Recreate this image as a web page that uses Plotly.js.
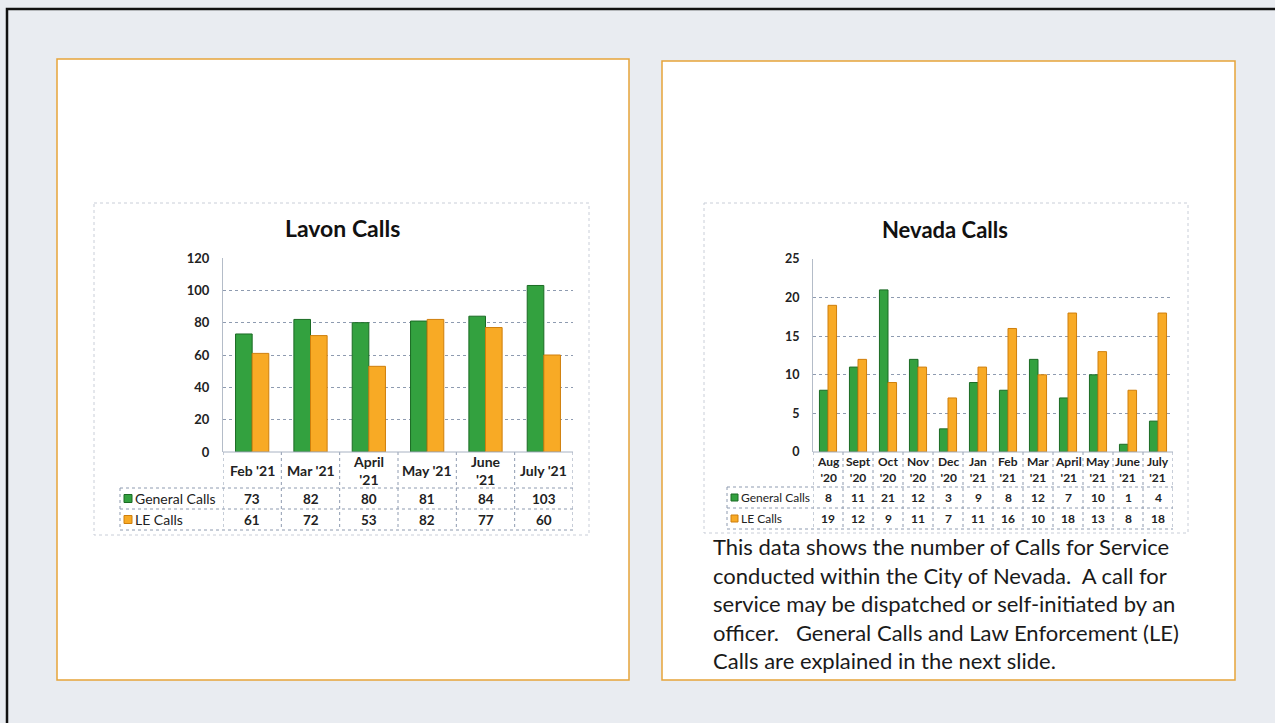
<!DOCTYPE html>
<html>
<head>
<meta charset="utf-8">
<script src="https://cdn.plot.ly/plotly-3.0.1.min.js"></script>
<style>
html,body{margin:0;padding:0;background:#e9ecf1;}
#chart{width:1275px;height:723px;}
</style>
</head>
<body>
<div id="chart"></div>
<script>
// ---- DATA ----
const seriesNames = ["General Calls", "LE Calls"];
const lavonMonths = ["Feb '21", "Mar '21", "April<br>'21", "May '21", "June<br>'21", "July '21"];
const lavonGeneral = [73, 82, 80, 81, 84, 103];
const lavonLE = [61, 72, 53, 82, 77, 60];
const nevadaMonths = ["Aug<br>'20", "Sept<br>'20", "Oct<br>'20", "Nov<br>'20", "Dec<br>'20", "Jan<br>'21",
                      "Feb<br>'21", "Mar<br>'21", "April<br>'21", "May<br>'21", "June<br>'21", "July<br>'21"];
const nevadaGeneral = [8, 11, 21, 12, 3, 9, 8, 12, 7, 10, 1, 4];
const nevadaLE = [19, 12, 9, 11, 7, 11, 16, 10, 18, 13, 8, 18];
const lavonTicks = [0, 20, 40, 60, 80, 100, 120];
const nevadaTicks = [0, 5, 10, 15, 20, 25];
const noteLines = [
  "This data shows the number of Calls for Service",
  "conducted within the City of Nevada.&nbsp; A call for",
  "service may be dispatched or self-initiated by an",
  "officer.&nbsp;&nbsp; General Calls and Law Enforcement (LE)",
  "Calls are explained in the next slide."
];

// ---- LAYOUT HELPERS ----
const W = 1275, H = 723;
const px = x => x / W;
const py = y => 1 - y / H;
const FONT = "Lato, 'Open Sans', sans-serif";
const GREEN = '#33a13f', GREEN_LINE = '#1b6b24';
const ORANGE = '#f8aa25', ORANGE_LINE = '#cf7f0c';
const GRID = '#8e9bb0';

const traces = [
  {type:'bar', x: lavonMonths, y: lavonGeneral, name: seriesNames[0], xaxis:'x', yaxis:'y',
   marker:{color:GREEN, line:{color:GREEN_LINE, width:1}}, hoverinfo:'y'},
  {type:'bar', x: lavonMonths, y: lavonLE, name: seriesNames[1], xaxis:'x', yaxis:'y',
   marker:{color:ORANGE, line:{color:ORANGE_LINE, width:1}}, hoverinfo:'y'},
  {type:'bar', x: nevadaMonths, y: nevadaGeneral, name: seriesNames[0], xaxis:'x2', yaxis:'y2',
   marker:{color:GREEN, line:{color:GREEN_LINE, width:1}}, hoverinfo:'y'},
  {type:'bar', x: nevadaMonths, y: nevadaLE, name: seriesNames[1], xaxis:'x2', yaxis:'y2',
   marker:{color:ORANGE, line:{color:ORANGE_LINE, width:1}}, hoverinfo:'y'}
];

const shapes = [];
const annotations = [];

// page frame
shapes.push({type:'path', xref:'paper', yref:'paper', layer:'below',
  path:`M ${px(7)} ${py(723)} L ${px(7)} ${py(9)} L ${px(1275)} ${py(9)}`,
  line:{color:'#111111', width:2.5}});
// orange panels
shapes.push({type:'rect', xref:'paper', yref:'paper', layer:'below',
  x0:px(57), y0:py(59), x1:px(629), y1:py(680), fillcolor:'#ffffff', line:{color:'#e6a43a', width:1.5}});
shapes.push({type:'rect', xref:'paper', yref:'paper', layer:'below',
  x0:px(662), y0:py(61), x1:px(1235), y1:py(680), fillcolor:'#ffffff', line:{color:'#e6a43a', width:1.5}});
// chart frames
shapes.push({type:'rect', xref:'paper', yref:'paper', layer:'below',
  x0:px(94), y0:py(203), x1:px(589), y1:py(535), fillcolor:'#ffffff', line:{color:'#c9ced8', width:1, dash:'dot'}});
shapes.push({type:'rect', xref:'paper', yref:'paper', layer:'below',
  x0:px(704), y0:py(203), x1:px(1188), y1:py(533), fillcolor:'#ffffff', line:{color:'#c9ced8', width:1, dash:'dot'}});

function dataTable(xa, cats, gen, le, rows, legLeft, plotLeft, plotRight, fsCat, fsVal, fsLeg, swatch) {
  const st = {color:GRID, width:1, dash:'dot'};
  const [top, r1, r2, r3] = rows;
  const n = cats.length;
  for (let i = 0; i <= n; i++) {
    shapes.push({type:'line', xref:xa, yref:'paper', x0:i-0.5, x1:i-0.5, y0:py(top), y1:py(r3), line:st});
  }
  shapes.push({type:'line', xref:'paper', yref:'paper', x0:px(legLeft), x1:px(legLeft), y0:py(r1), y1:py(r3), line:st});
  shapes.push({type:'line', xref:'paper', yref:'paper', x0:px(plotLeft), x1:px(plotRight), y0:py(top), y1:py(top), line:{color:'#a8b2c2', width:1}});
  [r1, r2, r3].forEach(r => shapes.push({type:'line', xref:'paper', yref:'paper',
    x0:px(legLeft), x1:px(plotRight), y0:py(r), y1:py(r), line:st}));
  for (let i = 0; i < n; i++) {
    annotations.push({xref:xa, yref:'paper', x:i, y:py((top + r1) / 2), text:'<b>' + cats[i] + '</b>',
      showarrow:false, xanchor:'center', yanchor:'middle', font:{family:FONT, size:fsCat, color:'#222'}});
    annotations.push({xref:xa, yref:'paper', x:i, y:py((r1 + r2) / 2), text:'<b>' + gen[i] + '</b>',
      showarrow:false, xanchor:'center', yanchor:'middle', font:{family:FONT, size:fsVal, color:'#222'}});
    annotations.push({xref:xa, yref:'paper', x:i, y:py((r2 + r3) / 2), text:'<b>' + le[i] + '</b>',
      showarrow:false, xanchor:'center', yanchor:'middle', font:{family:FONT, size:fsVal, color:'#222'}});
  }
  // legend swatches and names
  const rowsMid = [(r1 + r2) / 2, (r2 + r3) / 2];
  const cols = [[GREEN, GREEN_LINE], [ORANGE, ORANGE_LINE]];
  rowsMid.forEach((m, k) => {
    shapes.push({type:'rect', xref:'paper', yref:'paper',
      x0:px(legLeft + 4), x1:px(legLeft + 4 + swatch), y0:py(m - swatch / 2), y1:py(m + swatch / 2),
      fillcolor:cols[k][0], line:{color:cols[k][1], width:1}});
    annotations.push({xref:'paper', yref:'paper', x:px(legLeft + 5 + swatch), y:py(m), text:seriesNames[k],
      showarrow:false, xanchor:'left', yanchor:'middle', font:{family:FONT, size:fsLeg, color:'#222'}});
  });
}

dataTable('x', lavonMonths, lavonGeneral, lavonLE, [452, 488, 509, 530], 120, 223, 573, 14, 13.5, 14, 8);
dataTable('x2', nevadaMonths, nevadaGeneral, nevadaLE, [452, 487, 508, 529], 727, 813, 1173, 12, 12, 12, 7);

// chart titles
annotations.push({xref:'paper', yref:'paper', x:px(342), y:py(228), text:'<b>Lavon Calls</b>',
  showarrow:false, xanchor:'center', yanchor:'middle', font:{family:FONT, size:23, color:'#111'}});
annotations.push({xref:'paper', yref:'paper', x:px(945), y:py(229), text:'<b>Nevada Calls</b>',
  showarrow:false, xanchor:'center', yanchor:'middle', font:{family:FONT, size:22, color:'#111'}});

// note text
annotations.push({xref:'paper', yref:'paper', x:px(711), y:py(603), text:noteLines.join('<br>'),
  showarrow:false, xanchor:'left', yanchor:'middle', align:'left', font:{family:FONT, size:22, color:'#1a1a1a'}});

const layout = {
  width: W, height: H,
  margin: {l:0, r:0, t:0, b:0},
  paper_bgcolor: '#e9ecf1',
  plot_bgcolor: 'rgba(0,0,0,0)',
  showlegend: false,
  barmode: 'group',
  bargap: 0.43,
  bargroupgap: 0,
  xaxis: {domain:[px(223), px(573)], anchor:'y', type:'category', range:[-0.5, 5.5],
          showticklabels:false, showgrid:false, zeroline:false, showline:false, ticks:''},
  yaxis: {domain:[py(452), py(258)], anchor:'x', range:[0, 120], tickvals:lavonTicks,
          showgrid:true, gridcolor:GRID, griddash:'dot', gridwidth:1, zeroline:false,
          showline:true, linecolor:'#b4bcc8', linewidth:1,
          ticks:'outside', ticklen:10, tickcolor:'rgba(0,0,0,0)',
          tickfont:{family:FONT, size:13, color:'#222', weight:'bold'}},
  xaxis2: {domain:[px(813), px(1173)], anchor:'y2', type:'category', range:[-0.5, 11.5],
          showticklabels:false, showgrid:false, zeroline:false, showline:false, ticks:''},
  yaxis2: {domain:[py(452), py(259)], anchor:'x2', range:[0, 25], tickvals:nevadaTicks,
          showgrid:true, gridcolor:GRID, griddash:'dot', gridwidth:1, zeroline:false,
          showline:true, linecolor:'#b4bcc8', linewidth:1,
          ticks:'outside', ticklen:10, tickcolor:'rgba(0,0,0,0)',
          tickfont:{family:FONT, size:12.5, color:'#222', weight:'bold'}},
  shapes: shapes,
  annotations: annotations
};

Plotly.newPlot('chart', traces, layout, {displayModeBar:false, staticPlot:true});
</script>
</body>
</html>
